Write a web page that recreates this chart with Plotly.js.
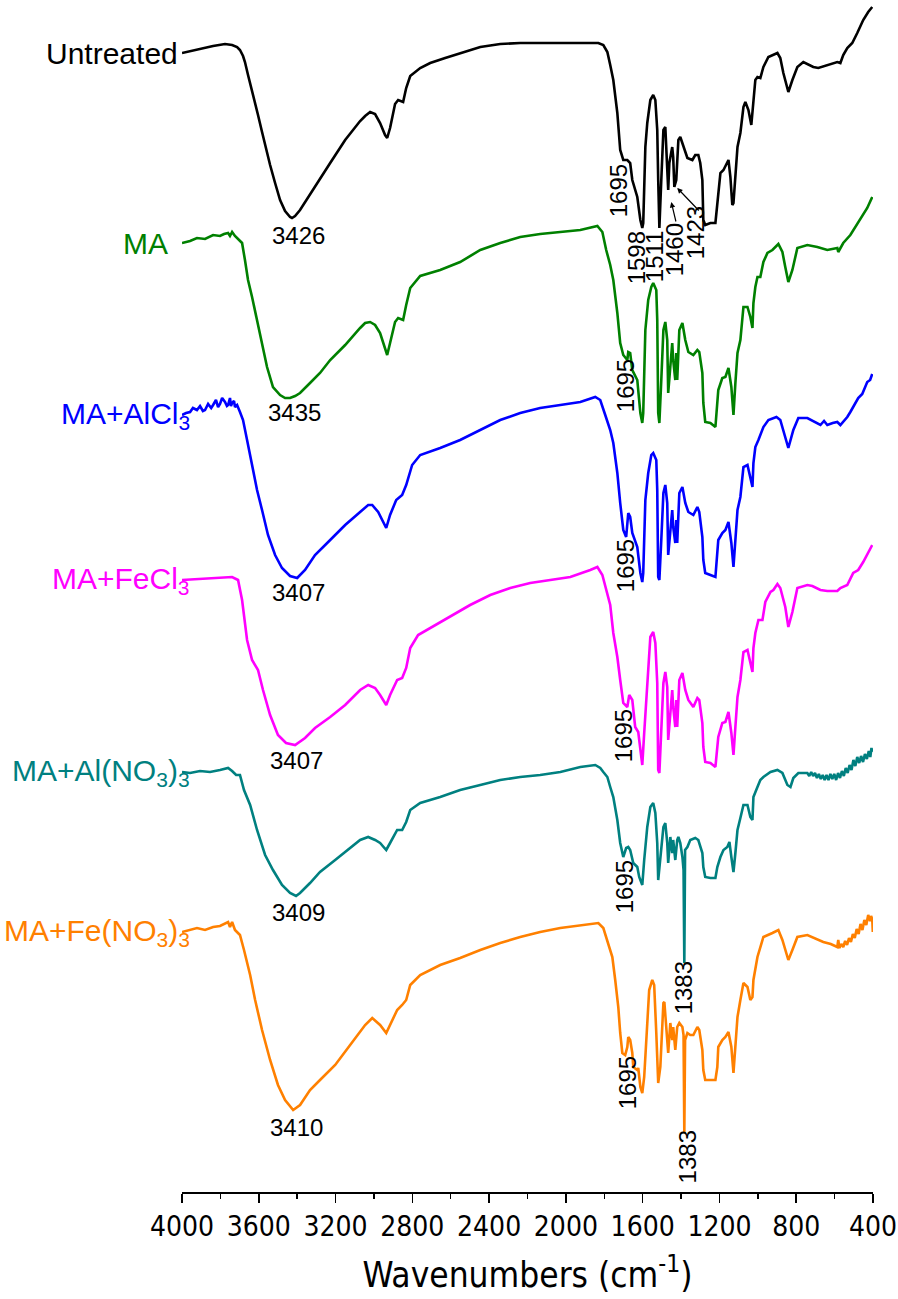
<!DOCTYPE html>
<html>
<head>
<meta charset="utf-8">
<script src="https://cdn.plot.ly/plotly-3.0.1.min.js"></script>
<style>html,body{margin:0;padding:0;background:#fff;}#chart{width:898px;height:1299px;}</style>
</head>
<body>
<div id="chart"></div>
<script>
// Wavenumbers (cm-1) and stacked transmittance (a.u.)
var wnUntreated = [4000,3958,3906,3838,3776,3739,3713,3698,3682,3672,3656,3645,3619,3604,3583,3567,3541,3515,3489,3463,3437,3427,3411,3385,3359,3333,3281,3228,3150,3072,3046,3020,2994,2968,2942,2931,2916,2905,2890,2874,2863,2848,2832,2811,2759,2707,2629,2551,2446,2342,2238,2029,1831,1805,1784,1769,1753,1732,1717,1701,1680,1665,1654,1628,1612,1602,1597,1586,1576,1560,1545,1534,1524,1519,1513,1503,1492,1482,1477,1467,1461,1446,1441,1435,1425,1414,1404,1388,1367,1341,1326,1310,1300,1289,1284,1274,1247,1221,1211,1195,1179,1159,1153,1143,1133,1127,1117,1106,1091,1075,1065,1049,1034,1023,1013,1002,987,971,945,898,883,867,841,820,794,763,711,685,638,586,570,555,534,508,482,451,425,404];
var tUntreated = [1147,1149,1151,1154,1156,1155,1153,1150,1144,1138,1125,1117,1098,1085,1068,1055,1035,1017,1000,989,983,982,984,990,998,1006,1022,1037,1060,1079,1084,1088,1086,1077,1065,1062,1072,1082,1096,1100,1099,1098,1112,1124,1132,1137,1142,1147,1153,1156,1157,1157,1157,1155,1148,1135,1120,1087,1050,1040,1040,1037,1020,1003,980,972,977,1053,1077,1100,1105,1100,1070,1020,972,1020,1070,1073,1053,1010,1037,1053,1043,1013,1020,1060,1063,1053,1042,1040,1045,1045,1037,1020,980,975,977,977,997,1027,1030,1037,1040,1023,995,997,1020,1053,1067,1093,1098,1090,1075,1097,1120,1123,1122,1133,1143,1147,1142,1127,1108,1120,1133,1138,1133,1132,1135,1138,1137,1145,1152,1157,1167,1180,1188,1193];

var wnMA = [4000,3958,3922,3880,3838,3802,3781,3760,3750,3739,3724,3713,3687,3672,3656,3635,3609,3583,3557,3526,3489,3463,3437,3411,3385,3333,3281,3228,3150,3072,3046,3020,2994,2968,2942,2931,2916,2890,2874,2848,2832,2811,2759,2655,2551,2446,2342,2238,2134,2029,1925,1836,1810,1790,1769,1753,1732,1717,1701,1680,1675,1665,1654,1628,1612,1602,1597,1586,1571,1555,1545,1529,1524,1519,1513,1503,1492,1482,1472,1467,1456,1446,1441,1430,1425,1420,1409,1393,1378,1362,1336,1315,1305,1289,1284,1274,1247,1221,1206,1185,1169,1153,1138,1127,1117,1106,1091,1075,1054,1039,1028,1023,1013,1002,987,971,950,924,893,872,857,841,820,794,742,690,638,586,581,555,518,492,456,430,404];
var tMA = [957,959,962,961,965,964,966,967,964,968,964,962,957,940,920,903,880,857,833,813,805,802,802,804,807,817,827,840,855,872,877,878,875,867,850,845,857,878,882,880,895,912,924,930,938,950,957,963,966,968,970,974,968,950,935,920,887,857,845,840,848,847,830,820,787,777,787,870,900,913,917,910,880,787,777,820,870,878,860,807,830,857,840,820,847,820,870,877,860,848,845,850,848,827,797,778,777,773,810,822,823,832,813,785,817,847,860,893,893,883,872,897,913,923,923,938,947,950,956,948,933,918,930,952,955,953,950,952,948,957,965,973,983,992,1003];

var wnAlCl3 = [4000,3979,3958,3943,3922,3906,3891,3880,3864,3848,3838,3823,3812,3802,3791,3776,3766,3760,3750,3745,3739,3729,3724,3713,3698,3682,3661,3635,3609,3583,3552,3515,3479,3437,3400,3359,3307,3228,3150,3072,3030,3009,2978,2936,2916,2884,2853,2832,2801,2759,2655,2551,2446,2342,2238,2134,2029,1925,1847,1821,1795,1769,1753,1732,1717,1701,1686,1675,1665,1654,1628,1612,1602,1597,1586,1571,1555,1545,1529,1524,1519,1513,1503,1492,1482,1472,1467,1456,1446,1441,1430,1425,1420,1409,1393,1378,1362,1336,1315,1305,1289,1284,1274,1247,1221,1206,1185,1169,1153,1138,1127,1117,1106,1091,1075,1054,1039,1028,1023,1013,997,971,945,903,883,857,841,815,789,742,700,674,655,638,610,586,570,555,534,518,503,492,477,456,440,430,415,404];
var tAlCl3 = [785,787,788,792,790,794,789,790,796,792,795,800,793,796,802,798,794,795,802,794,797,799,793,795,788,780,760,735,710,690,665,645,632,624,622,630,645,660,675,688,695,695,688,672,685,700,705,715,735,745,752,760,770,780,787,792,795,798,803,800,785,770,757,727,697,670,663,687,683,667,653,627,618,627,700,727,745,747,740,710,623,620,660,707,715,697,645,670,690,673,657,680,657,707,713,697,688,685,693,688,663,640,627,625,623,660,667,670,678,657,633,660,690,703,733,735,723,713,737,753,760,773,780,783,780,763,752,770,782,782,778,775,779,775,777,778,775,778,783,788,793,796,802,806,813,818,820,826,835];

var wnFeCl3 = [4000,3906,3802,3739,3708,3687,3661,3635,3604,3578,3541,3500,3458,3411,3359,3307,3228,3150,3072,3030,2994,2968,2936,2916,2879,2853,2832,2811,2770,2707,2603,2499,2394,2290,2186,2081,1977,1873,1836,1810,1790,1769,1753,1732,1717,1701,1680,1670,1654,1639,1623,1607,1602,1592,1576,1560,1545,1534,1524,1519,1513,1503,1492,1482,1472,1467,1456,1446,1441,1430,1425,1420,1409,1393,1378,1362,1336,1315,1305,1289,1284,1274,1247,1221,1206,1185,1169,1153,1138,1127,1117,1106,1091,1075,1054,1039,1028,1023,1013,997,976,961,934,919,898,883,857,841,820,794,742,716,674,638,586,570,534,503,477,451,425,404];
var tFeCl3 = [620,621,622,623,620,600,560,540,530,510,485,465,457,455,462,472,483,495,510,515,512,505,495,505,520,522,532,552,565,572,583,595,605,612,617,620,623,630,633,625,610,595,567,543,520,497,493,505,500,473,468,440,435,467,517,563,568,557,517,430,427,473,517,528,513,460,483,510,493,473,500,473,520,527,510,500,493,502,500,477,453,438,437,433,463,477,478,488,467,445,473,503,520,548,550,536,528,552,567,580,580,598,608,610,616,612,593,573,588,612,615,614,610,609,609,612,615,627,630,638,648,655];

var wnAlNO3 = [4000,3958,3906,3854,3802,3760,3739,3718,3698,3677,3645,3609,3567,3526,3479,3437,3406,3385,3333,3281,3202,3124,3072,3030,2994,2968,2936,2916,2879,2853,2832,2811,2759,2655,2551,2446,2342,2238,2134,2029,1925,1847,1821,1805,1784,1769,1753,1732,1717,1701,1686,1675,1665,1649,1628,1618,1602,1592,1576,1560,1545,1534,1524,1519,1508,1492,1482,1472,1467,1456,1446,1441,1430,1420,1414,1404,1393,1387,1383,1379,1367,1352,1326,1310,1289,1284,1274,1247,1221,1211,1195,1179,1159,1148,1138,1127,1117,1106,1091,1075,1054,1039,1028,1023,1002,987,971,934,898,872,846,830,815,789,752,742,732,722,712,702,692,682,672,662,652,642,632,622,612,602,592,582,572,562,552,542,532,522,512,502,492,482,472,462,452,442,432,422,414,408,404];
var tAlNO3 = [428,427,429,428,430,432,429,425,425,410,395,370,345,330,315,307,304,307,317,328,340,352,360,363,360,357,350,357,370,370,378,390,397,403,410,415,420,423,425,428,433,435,432,428,423,413,403,380,357,343,352,353,350,337,333,323,315,340,373,393,397,387,357,320,340,373,377,357,337,363,347,360,340,360,363,357,343,330,237,350,353,360,362,360,347,333,323,322,322,333,343,350,353,358,343,328,347,370,382,395,395,383,380,403,413,420,423,428,430,427,415,413,422,427,427,427,424,428,424,427,422,426,421,425,420,425,420,426,421,426,420,427,422,429,424,432,427,435,430,440,434,443,437,444,438,446,441,449,443,452,448];

var wnFeNO3 = [4000,3958,3922,3880,3838,3802,3760,3750,3739,3724,3698,3677,3645,3619,3583,3541,3500,3463,3421,3385,3333,3281,3202,3124,3046,3009,2968,2936,2916,2879,2853,2832,2811,2759,2655,2551,2446,2342,2238,2134,2029,1925,1831,1805,1779,1758,1743,1727,1717,1706,1691,1680,1675,1665,1654,1649,1628,1623,1612,1602,1592,1576,1566,1550,1540,1529,1524,1519,1508,1492,1487,1477,1467,1456,1446,1441,1430,1420,1409,1393,1387,1383,1379,1367,1352,1336,1315,1305,1289,1284,1274,1247,1221,1211,1206,1185,1169,1153,1138,1127,1117,1106,1091,1075,1054,1039,1028,1023,1002,971,924,893,872,841,820,794,742,659,620,600,586,581,575,565,555,545,535,525,515,505,495,485,475,465,455,445,435,425,415,410,404,401];
var tFeNO3 = [268,270,272,270,273,274,278,273,278,270,265,250,225,200,170,140,115,100,90,95,110,120,135,155,175,182,175,167,175,190,195,200,215,225,235,242,250,257,263,268,272,275,277,272,257,243,220,193,167,147,145,153,163,160,147,133,130,132,113,107,123,173,210,220,215,167,127,117,133,197,198,173,147,177,160,173,150,173,177,173,165,67,160,167,165,165,173,170,150,130,120,120,120,133,153,160,163,168,153,127,153,183,200,217,213,200,203,220,243,263,267,270,260,240,250,263,265,258,256,254,253,260,252,256,253,259,255,262,258,266,262,271,266,276,270,280,275,285,279,284,281,268];

var seriesNames = ['Untreated','MA','MA+AlCl<sub>3</sub>','MA+FeCl<sub>3</sub>','MA+Al(NO<sub>3</sub>)<sub>3</sub>','MA+Fe(NO<sub>3</sub>)<sub>3</sub>'];
var seriesColors = ['#000000','#008000','#0000ff','#ff00ff','#008080','#ff8000'];
var seriesX = [wnUntreated, wnMA, wnAlCl3, wnFeCl3, wnAlNO3, wnFeNO3];
var seriesY = [tUntreated, tMA, tAlCl3, tFeCl3, tAlNO3, tFeNO3];

var traces = seriesX.map(function(xs, i){
  return {x: xs, y: seriesY[i], type: 'scatter', mode: 'lines', name: seriesNames[i],
          line: {color: seriesColors[i], width: 2.6}, hoverinfo: 'skip'};
});

var regular = 'Liberation Sans, Arial, sans-serif';
var narrow = 'Liberation Sans Narrow, Arial Narrow, DejaVu Sans Condensed, sans-serif';

var annotations = [];
// series labels at the left end of each curve
var labelShift = [-2, -12, 10, 10, 10, 10];
seriesNames.forEach(function(n, i){
  annotations.push({x: 4000, y: seriesY[i][0], xref: 'x', yref: 'y', text: n, showarrow: false,
    xanchor: 'right', yanchor: 'middle', xshift: labelShift[i], font: {family: regular, size: 30, color: seriesColors[i]}});
});
function lab(t, x, y, rot){
  annotations.push({x: x, y: y, xref: 'x', yref: 'y', text: t, showarrow: false, textangle: rot ? -90 : 0,
    xanchor: 'center', yanchor: 'middle', font: {family: regular, size: 24, color: '#000'}});
}
// O-H band labels
lab('3426', 3395, 965); lab('3435', 3415, 788); lab('3407', 3395, 608);
lab('3407', 3405, 440); lab('3409', 3395, 288); lab('3410', 3405, 73);
// rotated labels
lab('1695', 1727, 1009, true); lab('1598', 1633, 942, true); lab('1511', 1540, 944, true);
lab('1460', 1435, 950, true); lab('1423', 1326, 967, true);
lab('1695', 1691, 814, true); lab('1695', 1691, 634, true); lab('1695', 1701, 464, true);
lab('1695', 1696, 313, true); lab('1695', 1680, 117, true);
lab('1383', 1388, 212, true); lab('1383', 1367, 43, true);
// arrows for 1460 and 1423
annotations.push({x: 1451, y: 998, xref: 'x', yref: 'y', text: '', showarrow: true, ax: 5, ay: 21,
  arrowhead: 2, arrowsize: 0.9, arrowwidth: 1.2, arrowcolor: '#000'});
annotations.push({x: 1420, y: 1012, xref: 'x', yref: 'y', text: '', showarrow: true, ax: 23, ay: 24,
  arrowhead: 2, arrowsize: 0.9, arrowwidth: 1.2, arrowcolor: '#000'});

var layout = {
  width: 898, height: 1299,
  margin: {l: 182, r: 25, t: 0, b: 107},
  paper_bgcolor: '#fff', plot_bgcolor: '#fff',
  showlegend: false,
  xaxis: {
    range: [4000, 400], autorange: false, tick0: 0, dtick: 400,
    ticks: 'outside', ticklen: 9, tickwidth: 1.5, tickcolor: '#000',
    showline: true, linewidth: 1.5, linecolor: '#000', mirror: false,
    showgrid: false, zeroline: false,
    tickfont: {family: narrow, size: 28, color: '#000'},
    minor: {dtick: 200, ticks: 'outside', ticklen: 5, tickwidth: 1.5, tickcolor: '#000', showgrid: false},
    title: {text: 'Wavenumbers (cm<sup>-1</sup>)', font: {family: narrow, size: 35, color: '#000'}, standoff: 20}
  },
  yaxis: {range: [8, 1200], autorange: false, visible: false, showgrid: false, zeroline: false},
  annotations: annotations
};

Plotly.newPlot('chart', traces, layout, {staticPlot: true, displayModeBar: false});
</script>
</body>
</html>
